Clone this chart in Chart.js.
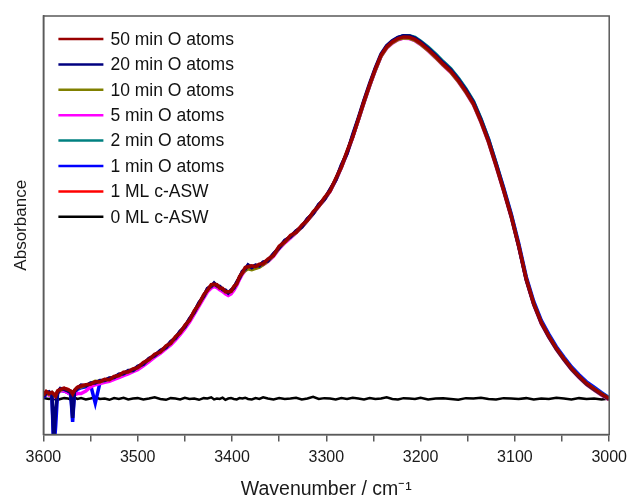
<!DOCTYPE html>
<html>
<head>
<meta charset="utf-8">
<script src="https://cdn.jsdelivr.net/npm/chart.js@4.4.1/dist/chart.umd.min.js"></script>
<style>
  html, body { margin: 0; padding: 0; background: #fff; }
  #wrap { width: 630px; height: 497px; }
</style>
</head>
<body>
<div id="wrap"><canvas id="irChart"></canvas></div>
<script>
// wavenumber grid (cm-1)
const wavenumbers = [3600,3597,3594,3591,3589,3587,3585,3582,3578,3574,3571,3569,3567,3564,3560,3555,3550,3545,3540,3535,
  3530,3525,3520,3515,3510,3505,3500,3494,3488,3482,3476,3470,3465,3460,3455,3450,3445,3440,3435,3430,
  3426,3422,3419,3416,3413,3410,3407,3404,3401,3398,3395,3392,3389,3386,3383,3379,3375,3371,3367,3362,
  3356,3350,3344,3338,3332,3326,3320,3314,3308,3302,3296,3290,3284,3278,3272,3266,3260,3254,3248,3242,
  3236,3230,3224,3218,3212,3206,3200,3192,3184,3176,3168,3160,3152,3144,3136,3128,3120,3112,3104,3096,
  3088,3080,3072,3064,3056,3048,3040,3032,3024,3016,3008,3000];

// absorbance (arbitrary units, x1000)
const min50 = [94,103,98,101,96,92,104,108,111,107,104,97,106,113,116,119,120,126,126,132,
  131,139,141,149,150,157,160,172,179,192,197,212,218,234,243,261,273,296,311,334,
  345,358,359,358,350,349,341,341,342,354,360,378,386,399,401,403,401,407,408,419,
  428,450,460,476,483,500,512,532,546,566,582,612,639,677,711,754,796,836,873,906,
  926,938,946,950,949,944,935,920,903,885,868,846,820,791,749,701,644,585,523,452,
  372,313,268,235,206,181,158,139,122,109,97,86];
const min20 = [90,99,102,96,-15,60,100,110,108,104,100,40,103,110,118,116,123,123,129,129,
  135,136,144,145,153,153,163,168,182,188,201,208,222,230,247,257,277,292,315,330,
  349,354,362,355,354,346,345,338,345,350,364,374,390,395,405,399,405,403,412,415,
  432,446,464,472,487,496,516,528,550,562,586,608,644,672,717,757,799,839,876,909,
  929,941,949,953,952,947,938,923,906,888,871,849,823,794,752,703,646,586,523,451,
  371,312,267,234,205,180,157,138,121,108,96,85];
const min10 = [92,100,96,99,94,90,100,106,109,105,102,100,104,111,114,117,122,127,126,130,
  132,137,141,146,150,154,160,169,179,189,198,209,219,231,244,258,274,293,312,331,
  346,355,359,356,351,347,342,339,342,351,361,375,386,392,396,394,397,400,406,414,
  428,446,460,472,483,496,512,528,546,562,582,608,639,673,711,752,794,834,871,904,
  924,936,944,948,947,942,933,918,901,883,866,844,818,789,747,699,642,583,521,450,
  370,311,266,233,204,179,156,137,120,107,95,84];
const min5 = [91,98,94,98,92,88,100,104,105,100,96,94,95,98,98,104,114,119,122,125,
  127,132,136,141,145,150,155,164,174,185,194,205,214,226,239,253,269,288,307,326,
  341,350,354,351,346,342,336,332,336,345,356,371,383,392,398,396,398,401,406,413,
  426,444,458,470,482,495,511,527,545,561,581,607,638,672,710,751,793,833,870,903,
  923,935,943,947,946,941,932,917,900,882,865,843,817,788,746,698,641,582,520,449,
  369,310,265,232,203,178,155,136,119,106,94,83];
const min2 = [93,101,97,100,95,91,102,107,109,106,103,96,105,112,115,117,120,124,126,130,
  132,137,141,146,150,154,160,169,179,189,198,209,219,231,244,258,274,293,312,331,
  346,355,359,356,351,347,342,339,342,351,361,375,387,396,402,400,402,404,409,416,
  429,447,461,473,484,497,513,529,547,563,583,609,640,674,712,753,795,835,872,905,
  926,939,948,953,953,949,940,926,909,891,874,852,826,797,755,706,648,588,525,453,
  373,314,269,236,207,182,159,140,123,110,98,87];
const min1 = [88,96,100,92,-40,20,98,106,104,100,96,30,100,108,112,114,119,75,124,128,
  131,136,140,145,149,154,159,168,178,188,197,208,218,230,243,257,273,292,311,330,
  345,354,358,355,350,346,341,338,341,350,360,374,386,395,401,399,401,403,408,415,
  428,446,460,472,483,496,512,528,546,562,582,608,639,673,711,752,794,834,871,905,
  926,939,948,953,952,947,938,923,906,889,872,850,824,795,753,706,649,590,528,457,
  377,318,273,240,210,185,162,143,126,113,100,88];
const ml1 = [95,102,99,100,97,94,103,109,110,108,103,99,105,112,117,117,122,124,128,130,
  134,137,143,146,152,154,162,169,181,189,200,209,221,231,246,258,276,293,314,331,
  348,355,361,356,353,347,344,339,344,351,363,375,389,396,404,400,404,404,411,416,
  431,447,463,473,486,497,515,529,549,563,585,609,642,674,714,753,797,835,874,905,
  927,937,947,949,950,943,936,919,904,884,869,845,821,790,750,700,645,584,524,451,
  373,312,269,234,207,180,159,138,123,108,98,85];
const ml0 = [88,86,85,87,84,86,83,85,87,86,84,86,88,85,87,84,86,89,85,86,
  83,87,85,88,84,86,87,84,86,89,85,83,87,86,84,88,85,86,83,87,
  86,89,84,86,85,88,83,86,87,85,84,87,86,88,85,84,87,85,89,86,
  84,87,85,86,88,84,86,90,85,87,86,84,87,85,88,86,84,87,85,86,
  89,85,84,87,86,85,88,84,86,87,85,83,87,86,88,85,84,87,86,85,
  87,84,86,85,88,86,84,87,85,86,84,86];

const seriesLabels = ['50 min O atoms','20 min O atoms','10 min O atoms','5 min O atoms',
  '2 min O atoms','1 min O atoms','1 ML c-ASW','0 ML c-ASW'];
const seriesValues = [min50, min20, min10, min5, min2, min1, ml1, ml0];
const seriesColors = ['#990000','#000080','#808000','#ff00ff','#008080','#0000ff','#ff0000','#000000'];

const FONT = '"Liberation Sans", Arial, sans-serif';
const AXIS_GREY = '#5a5a5a';

// legend drawn inside the plot, top-left
const insideLegend = {
  id: 'insideLegend',
  afterDraw(chart) {
    const c = chart.ctx, area = chart.chartArea;
    c.save();
    c.font = '17.5px ' + FONT;
    c.textBaseline = 'middle';
    c.fillStyle = '#111';
    chart.data.datasets.forEach((ds, i) => {
      const y = area.top + 23 + i * 25.4;
      c.strokeStyle = ds.borderColor;
      c.lineWidth = 2.5;
      c.beginPath();
      c.moveTo(area.left + 15, y);
      c.lineTo(area.left + 60, y);
      c.stroke();
      c.fillText(ds.label, area.left + 67, y + 1);
    });
    c.restore();
  }
};

// box round the plot area
const frame = {
  id: 'frame',
  afterDraw(chart) {
    const c = chart.ctx, a = chart.chartArea;
    c.save();
    c.strokeStyle = AXIS_GREY;
    c.lineWidth = 1.5;
    c.strokeRect(a.left, a.top, a.right - a.left, a.bottom - a.top);
    c.restore();
  }
};

const ctx = document.getElementById('irChart').getContext('2d');
const irChart = new Chart(ctx, {
  type: 'line',
  data: {
    datasets: seriesLabels.map((label, i) => ({
      label: label,
      data: wavenumbers.map((w, j) => ({ x: w, y: seriesValues[i][j] })),
      borderColor: seriesColors[i],
      backgroundColor: seriesColors[i],
      borderWidth: i === 7 ? 2.5 : 3.5,
      pointRadius: 0,
      tension: 0,
      fill: false
    }))
  },
  options: {
    responsive: true,
    maintainAspectRatio: false,
    animation: false,
    layout: { padding: { left: 11, right: 19, top: 16, bottom: 0 } },
    plugins: {
      legend: { display: false },
      tooltip: { enabled: false }
    },
    scales: {
      x: {
        type: 'linear',
        reverse: true,
        min: 3000,
        max: 3600,
        grid: { display: true, drawOnChartArea: false, drawTicks: true, tickLength: 7, color: AXIS_GREY, lineWidth: 1.5 },
        border: { display: true, color: AXIS_GREY, width: 1.5 },
        ticks: {
          stepSize: 50,
          autoSkip: false,
          maxRotation: 0,
          padding: 3,
          color: '#1a1a1a',
          font: { family: FONT, size: 16, lineHeight: 1.625 },
          callback: v => (v % 100 === 0 ? String(v) : '')
        },
        title: {
          display: true,
          text: 'Wavenumber / cm\u207B\u00B9',
          color: '#1a1a1a',
          font: { family: FONT, size: 19.5, lineHeight: 1.1 },
          padding: { top: 5, bottom: -3 }
        }
      },
      y: {
        min: 0,
        max: 1000,
        grid: { display: false, drawTicks: false },
        border: { display: true, color: AXIS_GREY, width: 1.5 },
        ticks: { display: false },
        title: {
          display: true,
          text: 'Absorbance',
          color: '#1a1a1a',
          font: { family: FONT, size: 17 },
          padding: { top: 0, bottom: 12 }
        }
      }
    }
  },
  plugins: [insideLegend, frame]
});
</script>
</body>
</html>
